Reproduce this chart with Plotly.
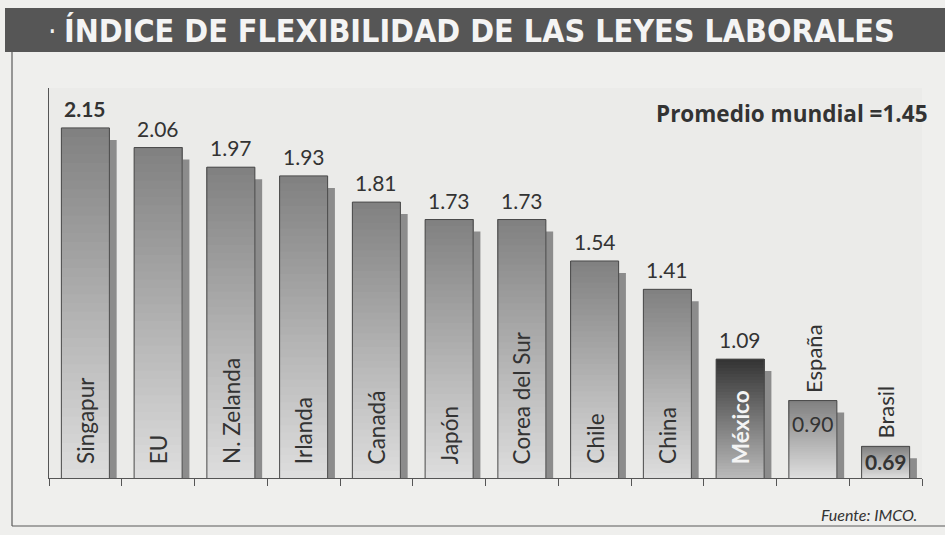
import plotly.graph_objects as go

# ---- data ----
paises = ["Singapur", "EU", "N. Zelanda", "Irlanda", "Canadá", "Japón",
          "Corea del Sur", "Chile", "China", "México", "España", "Brasil"]
indice = [2.15, 2.06, 1.97, 1.93, 1.81, 1.73, 1.73, 1.54, 1.41, 1.09, 0.90, 0.69]
promedio_mundial = 1.45

# ---- style ----
AXIS_MIN, AXIS_MAX = 0.545, 2.333
W, H = 945, 535
ML, MR, MT, MB = 49, 23, 88, 57
PW, PH = W - ML - MR, H - MT - MB
BAR_W = 0.66
FONT = "Lato, 'Open Sans', sans-serif"
TITLE_FONT = "'DejaVu Sans Condensed', 'Liberation Sans Narrow', Roboto, sans-serif"

def px(x):  # pixel -> paper x
    return (x - ML) / PW

def py(y):  # pixel -> paper y
    return (H - MB - y) / PH

def mix(c1, c2, t):
    a = [int(c1[i:i + 2], 16) for i in (1, 3, 5)]
    b = [int(c2[i:i + 2], 16) for i in (1, 3, 5)]
    return "rgb(%d,%d,%d)" % tuple(round(a[k] + (b[k] - a[k]) * t) for k in range(3))

top_col = ["#333333" if p == "México" else "#808080" for p in paises]
bot_col = ["#bababa" if p == "México" else "#dedede" for p in paises]

fig = go.Figure()

# shadow
fig.add_trace(go.Bar(x=paises, y=[v - 0.055 for v in indice], width=BAR_W,
                     offset=-BAR_W / 2 + 0.10,
                     marker=dict(color="#8c8c8c", line=dict(width=0)),
                     hoverinfo="skip", showlegend=False))

# gradient (each layer runs from its base up to the bar top; later layers darker)
N = 40
for k in range(N):
    t = (k + 0.5) / N
    bases = [AXIS_MIN + (v - AXIS_MIN) * k / N for v in indice]
    hs = [v - b for v, b in zip(indice, bases)]
    cols = [mix(bot_col[i], top_col[i], t) for i in range(len(paises))]
    fig.add_trace(go.Bar(x=paises, y=hs, base=bases, width=BAR_W,
                         marker=dict(color=cols, line=dict(width=0)),
                         hoverinfo="skip", showlegend=False))

# main outline bar
fig.add_trace(go.Bar(x=paises, y=indice, width=BAR_W,
                     marker=dict(color="rgba(0,0,0,0)", line=dict(color="#4a4a4a", width=1)),
                     showlegend=False))

# value labels
for p, v in zip(paises, indice):
    s = f"{v:.2f}"
    if p in ("Singapur", "Brasil"):
        s = f"<b>{s}</b>"
    if p in ("España", "Brasil"):
        fig.add_annotation(x=p, y=v, xref="x", yref="y", text=s, showarrow=False,
                           yanchor="top", xanchor="center",
                           yshift=-8 if p == "España" else -1,
                           font=dict(family=FONT, size=21, color="#333333"))
    else:
        fig.add_annotation(x=p, y=v, xref="x", yref="y", text=s, showarrow=False,
                           yanchor="bottom", xanchor="center", yshift=5,
                           font=dict(family=FONT, size=21, color="#333333"))

# country name labels
for p, v in zip(paises, indice):
    if p in ("España", "Brasil"):
        fig.add_annotation(x=p, y=v, xref="x", yref="y", text=p, textangle=-90,
                           showarrow=False, yanchor="bottom", xanchor="center", yshift=6,
                           font=dict(family=FONT, size=22, color="#333333"))
    else:
        is_mx = p == "México"
        fig.add_annotation(x=p, y=AXIS_MIN, xref="x", yref="y",
                           text=f"<b>{p}</b>" if is_mx else p, textangle=-90,
                           showarrow=False, yanchor="bottom", xanchor="center", yshift=12,
                           font=dict(family=FONT, size=22.5, color="#f4f4f4" if is_mx else "#333333"))

# title band
fig.add_shape(type="rect", xref="paper", yref="paper", x0=px(5), x1=px(945),
              y0=py(52), y1=py(8), fillcolor="#565656", line=dict(width=0), layer="below")
fig.add_annotation(xref="paper", yref="paper", x=px(46), y=py(31), xanchor="left", yanchor="middle",
                   text="·", showarrow=False, font=dict(family=TITLE_FONT, size=30, color="#f2f2f2"))
fig.add_annotation(xref="paper", yref="paper", x=px(62), y=py(31), xanchor="left", yanchor="middle",
                   text="<b>ÍNDICE DE FLEXIBILIDAD DE LAS LEYES LABORALES</b>", showarrow=False,
                   font=dict(family=TITLE_FONT, size=32, color="#f4f4f4"))

# frame lines
fig.add_shape(type="line", xref="paper", yref="paper", x0=px(12), x1=px(12), y0=py(52), y1=py(526),
              line=dict(color="#5a5a5a", width=1.2))
fig.add_shape(type="line", xref="paper", yref="paper", x0=px(12), x1=px(945), y0=py(526), y1=py(526),
              line=dict(color="#5a5a5a", width=1.2))

# average note
fig.add_annotation(xref="paper", yref="paper", x=px(930), y=py(113), xanchor="right", yanchor="middle",
                   text=f"<b>Promedio mundial ={promedio_mundial:.2f}</b>", showarrow=False,
                   font=dict(family="'Open Sans', Lato, sans-serif", size=22.5, color="#333333"))
# source
fig.add_annotation(xref="paper", yref="paper", x=px(919), y=py(514), xanchor="right", yanchor="middle",
                   text="<i>Fuente: IMCO.</i>", showarrow=False,
                   font=dict(family=FONT, size=16, color="#333333"))

fig.update_layout(
    width=W, height=H, margin=dict(l=ML, r=MR, t=MT, b=MB),
    paper_bgcolor="#efefed", plot_bgcolor="#ebebe9",
    barmode="overlay", showlegend=False,
    xaxis=dict(type="category", range=[-0.5, len(paises) - 0.5], tickson="boundaries",
               ticks="outside", ticklen=7, tickcolor="#555555", showticklabels=False,
               showline=True, linecolor="#555555", linewidth=1.2, showgrid=False, zeroline=False),
    yaxis=dict(range=[AXIS_MIN, AXIS_MAX], showticklabels=False, ticks="", showgrid=False,
               zeroline=False, showline=True, linecolor="#555555", linewidth=1.2),
)

fig.write_html("out.html", config={"displayModeBar": False},
               post_script="document.body.style.margin='0';")
